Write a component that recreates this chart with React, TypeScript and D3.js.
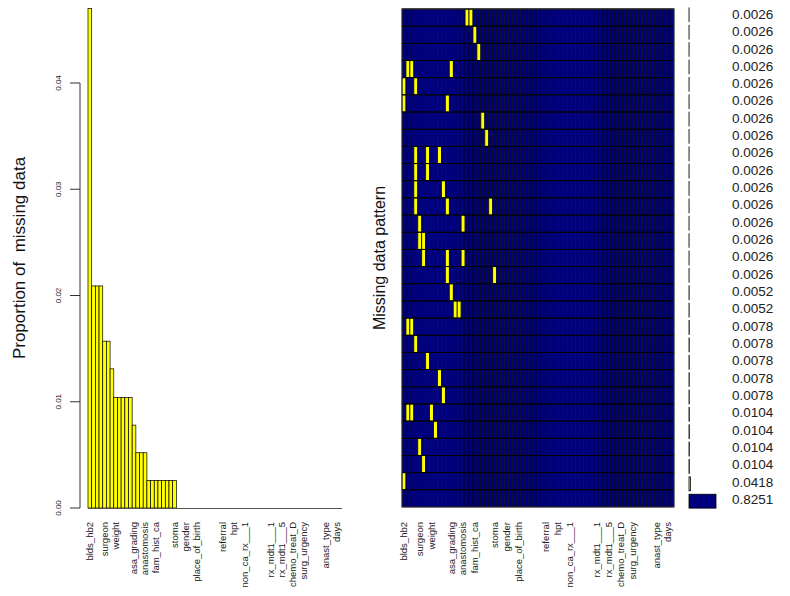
import React, { useEffect, useRef } from 'react';
import * as d3 from 'd3';

// number of variables (columns) in both panels
const nVars = 69;

// proportion of missing values per variable, left to right
const missProp = [
  0.047, 0.0209, 0.0209, 0.0209, 0.0157, 0.0157, 0.0131, 0.0104, 0.0104, 0.0104,
  0.0104, 0.0104, 0.0078, 0.0052, 0.0052, 0.0052, 0.0026, 0.0026, 0.0026, 0.0026,
  0.0026, 0.0026, 0.0026, 0.0026,
];

// labelled variables (R skips overlapping axis labels)
const labelCols = [0, 4, 7, 12, 15, 18, 23, 26, 29, 36, 39, 42, 49, 52, 55, 58, 64, 67];
const labelNames = [
  'blds_hb2', 'surgeon', 'weight', 'asa_grading', 'anastomosis', 'fam_hist_ca',
  'stoma', 'gender', 'place_of_birth', 'referral', 'hpt', 'non_ca_rx___1',
  'rx_mdt1___1', 'rx_mdt1___5', 'chemo_treat_D', 'surg_urgency', 'anast_type', 'days',
];

// missing-data patterns: columns missing in each combination, top to bottom
const patternMissing = [
  [16, 17], [18], [19], [1, 2, 12], [0, 3], [0, 11], [20], [21],
  [3, 6, 9], [3, 6], [3, 10], [3, 11, 22], [4, 15], [4, 5], [5, 11, 15], [11, 23],
  [12], [13, 14],
  [1, 2], [3], [6], [9], [10],
  [1, 2, 7], [8], [4], [5],
  [0],
  [],
];
const patternProp = [
  0.0026, 0.0026, 0.0026, 0.0026, 0.0026, 0.0026, 0.0026, 0.0026,
  0.0026, 0.0026, 0.0026, 0.0026, 0.0026, 0.0026, 0.0026, 0.0026,
  0.0052, 0.0052,
  0.0078, 0.0078, 0.0078, 0.0078, 0.0078,
  0.0104, 0.0104, 0.0104, 0.0104,
  0.0418,
  0.8251,
];

const yTicks = [0, 0.01, 0.02, 0.03, 0.04];

const FONT = '"Liberation Sans", Arial, sans-serif';
const YELLOW = '#ffff00';
const NAVY = '#00007c';

const App = () => {
  const svgRef = useRef<SVGSVGElement | null>(null);
  const width = 790;
  const height = 596;

  useEffect(() => {
    const svg = d3.select(svgRef.current);
    svg.selectAll('*').remove();
    svg.attr('width', width).attr('height', height);

    const cols = d3.range(nVars);

    // ---------- left panel: proportion of missings ----------
    const xL = d3.scaleBand<number>().domain(cols).range([88, 342]).padding(0);
    const yL = d3.scaleLinear().domain([0, 0.04]).range([508, 83]);

    svg.append('g')
      .selectAll('rect')
      .data(missProp)
      .enter()
      .append('rect')
      .attr('x', (_, i) => xL(i)!)
      .attr('y', d => yL(d))
      .attr('width', xL.bandwidth())
      .attr('height', d => yL(0) - yL(d))
      .attr('fill', YELLOW)
      .attr('stroke', '#000')
      .attr('stroke-width', 0.7);

    // x baseline
    svg.append('line')
      .attr('x1', 88).attr('x2', 342)
      .attr('y1', yL(0) + 0.5).attr('y2', yL(0) + 0.5)
      .attr('stroke', '#555')
      .attr('stroke-width', 1);

    // y axis
    const yAxis = svg.append('g').attr('transform', 'translate(80,0)');
    yAxis.append('line')
      .attr('x1', 0).attr('x2', 0)
      .attr('y1', yL(0.04)).attr('y2', yL(0))
      .attr('stroke', '#333');
    yTicks.forEach(t => {
      yAxis.append('line')
        .attr('x1', -10).attr('x2', 0)
        .attr('y1', yL(t)).attr('y2', yL(t))
        .attr('stroke', '#333');
      yAxis.append('text')
        .attr('transform', `translate(-19,${yL(t)}) rotate(-90)`)
        .attr('text-anchor', 'middle')
        .style('font-family', FONT)
        .style('font-size', '8px')
        .attr('fill', '#222')
        .text(d3.format('.2f')(t));
    });

    svg.append('text')
      .attr('transform', `translate(25,258) rotate(-90)`)
      .attr('text-anchor', 'middle')
      .style('font-family', FONT)
      .style('font-size', '17px')
      .attr('fill', '#111')
      .style('white-space', 'pre')
      .text('Proportion of  missing data');

    // ---------- right panel: missing data pattern ----------
    const xR = d3.scaleBand<number>().domain(cols).range([402, 674]).padding(0);
    const rows = d3.range(patternProp.length);
    const yR = d3.scaleBand<number>().domain(rows).range([9, 507]).padding(0);

    const grid = svg.append('g');
    patternMissing.forEach((miss, r) => {
      cols.forEach(c => {
        const isMiss = miss.includes(c);
        grid.append('rect')
          .attr('x', xR(c)!)
          .attr('y', yR(r)!)
          .attr('width', xR.bandwidth())
          .attr('height', yR.bandwidth())
          .attr('fill', isMiss ? YELLOW : NAVY)
          .attr('stroke', '#000')
          .attr('stroke-width', isMiss ? 0.8 : 0.5);
      });
      grid.append('line')
        .attr('x1', 402).attr('x2', 674)
        .attr('y1', yR(r)!).attr('y2', yR(r)!)
        .attr('stroke', '#000')
        .attr('stroke-width', 1);
    });
    grid.append('rect')
      .attr('x', 402).attr('y', 9)
      .attr('width', 272).attr('height', 498)
      .attr('fill', 'none')
      .attr('stroke', '#333')
      .attr('stroke-width', 1);

    svg.append('text')
      .attr('transform', `translate(385,258) rotate(-90)`)
      .attr('text-anchor', 'middle')
      .style('font-family', FONT)
      .style('font-size', '16px')
      .attr('fill', '#111')
      .text('Missing data pattern');

    // proportion bars for each pattern
    const yB = d3.scaleBand<number>().domain(rows).range([7, 509]).paddingInner(0.2).paddingOuter(0.05);
    const yT = d3.scalePoint<number>().domain(rows).range([14, 499]);
    const xB = d3.scaleLinear().domain([0, d3.max(patternProp)!]).range([0, 27]);
    patternProp.forEach((p, r) => {
      svg.append('rect')
        .attr('x', 689)
        .attr('y', yB(r)!)
        .attr('width', xB(p))
        .attr('height', yB.bandwidth())
        .attr('fill', patternMissing[r].length ? YELLOW : NAVY)
        .attr('stroke', '#000')
        .attr('stroke-width', 0.8);
      svg.append('text')
        .attr('x', 732)
        .attr('y', yT(r)!)
        .attr('dy', '0.36em')
        .style('font-family', FONT)
        .style('font-size', '13.5px')
        .attr('fill', '#222')
        .text(d3.format('.4f')(p));
    });

    // ---------- variable labels under both panels ----------
    [xL, xR].forEach(x => {
      labelCols.forEach((c, i) => {
        svg.append('text')
          .attr('transform', `translate(${x(c)! + x.bandwidth() / 2},522) rotate(-90)`)
          .attr('text-anchor', 'end')
          .attr('dy', '0.35em')
          .style('font-family', FONT)
          .style('font-size', '9.5px')
          .attr('fill', '#222')
          .text(labelNames[i]);
      });
    });
  }, []);

  return (
    <div style={{ position: 'absolute', left: 0, top: 0, background: '#fff' }}>
      <svg ref={svgRef} style={{ display: 'block' }}></svg>
    </div>
  );
};

export default App;
